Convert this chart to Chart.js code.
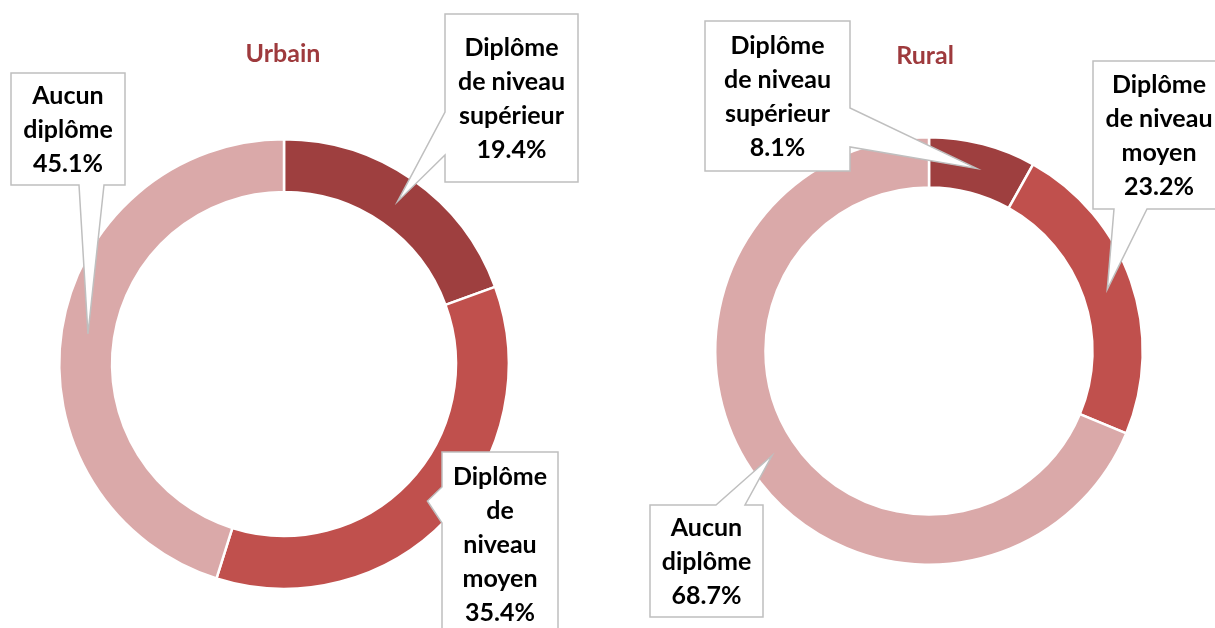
<!DOCTYPE html>
<html>
<head>
<meta charset="utf-8">
<script src="https://cdn.jsdelivr.net/npm/chart.js@4.4.1/dist/chart.umd.min.js"></script>
<style>
    html, body { margin: 0; padding: 0; background: #fff; }
    #wrap { position: relative; width: 1215px; height: 628px; overflow: hidden; }
    .pane { position: absolute; top: 0; height: 628px; }
</style>
</head>
<body>
<div id="wrap">
    <div class="pane" style="left:0;width:607px"><canvas id="urbainChart"></canvas></div>
    <div class="pane" style="left:607px;width:608px"><canvas id="ruralChart"></canvas></div>
</div>
<script>
const categories = ['Diplôme de niveau supérieur', 'Diplôme de niveau moyen', 'Aucun diplôme'];
const urbainValues = [19.4, 35.4, 45.1];
const ruralValues = [8.1, 23.2, 68.7];
const sliceColors = ['#9E3F3F', '#C0504D', '#DAA9A9'];

const labelFont = 'bold 25px Lato';

// callout boxes, placed relative to the doughnut centre
const urbainCallouts = [
    { dx: 161, dy: -350, w: 133, h: 168, edge: 'left', from: 98, to: 141, wrap: 122 },
    { dx: 158, dy: 88, w: 116, h: 183, edge: 'left', from: 35, to: 71, wrap: 95 },
    { dx: -273, dy: -291, w: 114, h: 112, edge: 'bottom', from: 68, to: 93, wrap: 110 }
];
const ruralCallouts = [
    { dx: -224, dy: -330, w: 145, h: 150, edge: 'right', from: 87, to: 126, wrap: 122 },
    { dx: 164, dy: -290, w: 132, h: 148, edge: 'bottom', from: 21, to: 54, wrap: 122 },
    { dx: -279, dy: 154, w: 113, h: 112, edge: 'top', from: 66, to: 95, wrap: 110 }
];

function wrapText(ctx, text, maxW) {
    const words = text.split(' ');
    const lines = [];
    let cur = '';
    words.forEach(function (w) {
        const test = cur ? cur + ' ' + w : w;
        if (cur && ctx.measureText(test).width > maxW) {
            lines.push(cur);
            cur = w;
        } else {
            cur = test;
        }
    });
    if (cur) lines.push(cur);
    return lines;
}

const calloutPlugin = {
    id: 'callouts',
    afterDatasetsDraw(chart, args, opts) {
        const ctx = chart.ctx;
        const meta = chart.getDatasetMeta(0);
        const values = chart.data.datasets[0].data;
        const cx = meta.data[0].x;
        const cy = meta.data[0].y;

        ctx.save();
        ctx.font = labelFont;
        ctx.fillStyle = '#9E3A3D';
        ctx.textAlign = 'center';
        ctx.textBaseline = 'alphabetic';
        ctx.fillText(opts.title, cx + opts.titleDx, opts.titleY);

        meta.data.forEach(function (arc, i) {
            const c = opts.boxes[i];
            const tip = arc.tooltipPosition();
            const x = cx + c.dx, y = cy + c.dy, w = c.w, h = c.h;

            ctx.beginPath();
            ctx.moveTo(x, y);
            if (c.edge === 'top') {
                ctx.lineTo(x + c.from, y); ctx.lineTo(tip.x, tip.y); ctx.lineTo(x + c.to, y);
            }
            ctx.lineTo(x + w, y);
            if (c.edge === 'right') {
                ctx.lineTo(x + w, y + c.from); ctx.lineTo(tip.x, tip.y); ctx.lineTo(x + w, y + c.to);
            }
            ctx.lineTo(x + w, y + h);
            if (c.edge === 'bottom') {
                ctx.lineTo(x + c.to, y + h); ctx.lineTo(tip.x, tip.y); ctx.lineTo(x + c.from, y + h);
            }
            ctx.lineTo(x, y + h);
            if (c.edge === 'left') {
                ctx.lineTo(x, y + c.to); ctx.lineTo(tip.x, tip.y); ctx.lineTo(x, y + c.from);
            }
            ctx.closePath();
            ctx.fillStyle = '#fff';
            ctx.fill();
            ctx.strokeStyle = '#BFBFBF';
            ctx.lineWidth = 1.5;
            ctx.stroke();

            ctx.font = labelFont;
            ctx.fillStyle = '#000';
            ctx.textBaseline = 'middle';
            const lines = wrapText(ctx, chart.data.labels[i], c.wrap);
            lines.push(values[i].toFixed(1) + '%');
            const lh = 34;
            lines.forEach(function (line, k) {
                ctx.fillText(line, x + w / 2, y + h / 2 + (k - (lines.length - 1) / 2) * lh + 1);
            });
        });
        ctx.restore();
    }
};

function makeDoughnut(id, values, title, boxes, padding, titleDx, titleY) {
    return new Chart(document.getElementById(id), {
        type: 'doughnut',
        data: {
            labels: categories,
            datasets: [{
                data: values,
                backgroundColor: sliceColors,
                borderColor: '#fff',
                borderWidth: 2.5
            }]
        },
        options: {
            responsive: true,
            maintainAspectRatio: false,
            animation: false,
            cutout: '76.5%',
            layout: { padding: padding },
            plugins: {
                legend: { display: false },
                tooltip: { enabled: false },
                callouts: { title: title, boxes: boxes, titleDx: titleDx, titleY: titleY }
            }
        },
        plugins: [calloutPlugin]
    });
}

makeDoughnut('urbainChart', urbainValues, 'Urbain', urbainCallouts,
    { left: 58, right: 97, top: 138, bottom: 38 }, -1, 62);
makeDoughnut('ruralChart', ruralValues, 'Rural', ruralCallouts,
    { left: 107, right: 71, top: 136, bottom: 62 }, -4, 64);
</script>
</body>
</html>
